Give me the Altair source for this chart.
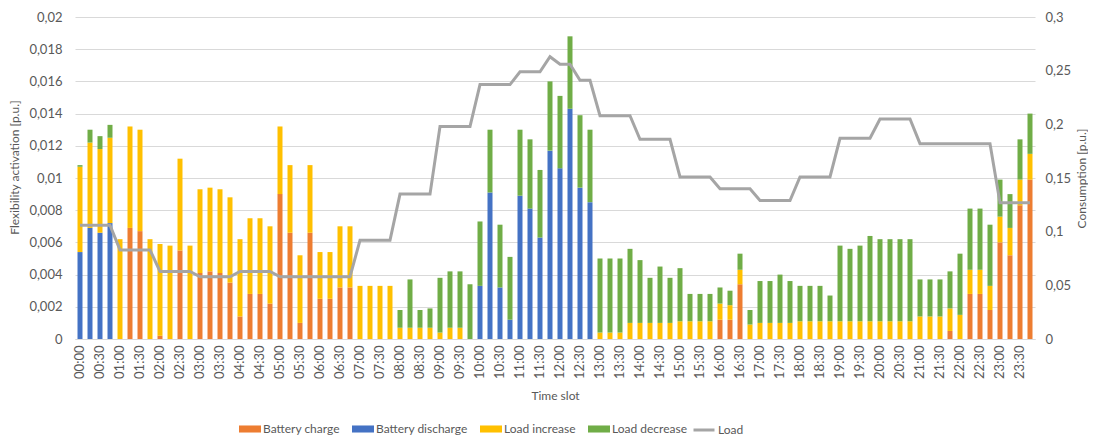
import altair as alt
import pandas as pd

slots = [f"{h:02d}:{m:02d}" for h in range(24) for m in (0, 15, 30, 45)]

battery_charge = [
    0, 0, 0, 0, 0, 0.0069, 0.0067, 0, 0.0002, 0,
    0.0055, 0, 0.0041, 0.0042, 0.0041, 0.0035, 0.0014, 0.0028, 0.0028, 0.0022,
    0.0090, 0.0066, 0.0010, 0.0066, 0.0025, 0.0025, 0.0032, 0.0032, 0, 0,
    0, 0, 0, 0, 0, 0, 0, 0, 0, 0,
    0, 0, 0, 0, 0, 0, 0, 0, 0, 0,
    0, 0, 0, 0, 0, 0, 0, 0, 0, 0,
    0, 0, 0, 0, 0.0012, 0.0012, 0.0034, 0, 0, 0,
    0, 0, 0, 0, 0, 0, 0, 0, 0, 0,
    0, 0, 0, 0, 0, 0, 0, 0.0005, 0, 0.0028,
    0.0028, 0.0018, 0.0060, 0.0052, 0.0083, 0.0099,
]
battery_discharge = [
    0.0054, 0.0069, 0.0066, 0.0072, 0, 0, 0, 0, 0, 0,
    0, 0, 0, 0, 0, 0, 0, 0, 0, 0,
    0, 0, 0, 0, 0, 0, 0, 0, 0, 0,
    0, 0, 0, 0, 0, 0, 0, 0, 0, 0,
    0.0033, 0.0091, 0.0032, 0.0012, 0.0089, 0.0081, 0.0063, 0.0117, 0.0106, 0.0143,
    0.0094, 0.0085, 0, 0, 0, 0, 0, 0, 0, 0,
    0, 0, 0, 0, 0, 0, 0, 0, 0, 0,
    0, 0, 0, 0, 0, 0, 0, 0, 0, 0,
    0, 0, 0, 0, 0, 0, 0, 0, 0, 0,
    0, 0, 0, 0, 0, 0,
]
load_increase = [
    0.0053, 0.0053, 0.0052, 0.0053, 0.0062, 0.0063, 0.0063, 0.0062, 0.0057, 0.0058,
    0.0057, 0.0058, 0.0052, 0.0052, 0.0052, 0.0053, 0.0048, 0.0047, 0.0047, 0.0048,
    0.0042, 0.0042, 0.0042, 0.0042, 0.0029, 0.0029, 0.0038, 0.0038, 0.0033, 0.0033,
    0.0033, 0.0033, 0.0007, 0.0007, 0.0007, 0.0007, 0.0004, 0.0007, 0.0007, 0,
    0, 0, 0, 0, 0, 0, 0, 0, 0, 0,
    0, 0, 0.0004, 0.0004, 0.0004, 0.0010, 0.0010, 0.0010, 0.0010, 0.0010,
    0.0011, 0.0011, 0.0011, 0.0011, 0.0010, 0.0009, 0.0009, 0.0009, 0.0010, 0.0010,
    0.0010, 0.0010, 0.0011, 0.0011, 0.0011, 0.0011, 0.0011, 0.0011, 0.0011, 0.0011,
    0.0011, 0.0011, 0.0011, 0.0011, 0.0014, 0.0014, 0.0014, 0.0014, 0.0015, 0.0015,
    0.0015, 0.0015, 0.0016, 0.0017, 0.0016, 0.0016,
]
load_decrease = [
    0.0001, 0.0008, 0.0008, 0.0008, 0, 0, 0, 0, 0, 0,
    0, 0, 0, 0, 0, 0, 0, 0, 0, 0,
    0, 0, 0, 0, 0, 0, 0, 0, 0, 0,
    0, 0, 0.0011, 0.0030, 0.0011, 0.0012, 0.0034, 0.0035, 0.0035, 0.0034,
    0.0040, 0.0039, 0.0039, 0.0039, 0.0041, 0.0043, 0.0042, 0.0043, 0.0045, 0.0045,
    0.0045, 0.0045, 0.0046, 0.0046, 0.0046, 0.0046, 0.0039, 0.0028, 0.0035, 0.0028,
    0.0033, 0.0017, 0.0017, 0.0017, 0.0010, 0.0009, 0.0010, 0.0009, 0.0026, 0.0026,
    0.0030, 0.0026, 0.0022, 0.0022, 0.0022, 0.0016, 0.0047, 0.0045, 0.0047, 0.0053,
    0.0051, 0.0051, 0.0051, 0.0051, 0.0023, 0.0023, 0.0023, 0.0023, 0.0038, 0.0038,
    0.0038, 0.0038, 0.0023, 0.0021, 0.0025, 0.0025,
]
load = [
    0.106, 0.106, 0.106, 0.106, 0.083, 0.083, 0.083, 0.083, 0.063, 0.063,
    0.063, 0.063, 0.058, 0.058, 0.058, 0.058, 0.063, 0.063, 0.063, 0.063,
    0.058, 0.058, 0.058, 0.058, 0.058, 0.058, 0.058, 0.058, 0.092, 0.092,
    0.092, 0.092, 0.135, 0.135, 0.135, 0.135, 0.198, 0.198, 0.198, 0.198,
    0.237, 0.237, 0.237, 0.237, 0.249, 0.249, 0.249, 0.263, 0.256, 0.256,
    0.241, 0.241, 0.208, 0.208, 0.208, 0.208, 0.186, 0.186, 0.186, 0.186,
    0.151, 0.151, 0.151, 0.151, 0.140, 0.140, 0.140, 0.140, 0.129, 0.129,
    0.129, 0.129, 0.151, 0.151, 0.151, 0.151, 0.187, 0.187, 0.187, 0.187,
    0.205, 0.205, 0.205, 0.205, 0.182, 0.182, 0.182, 0.182, 0.182, 0.182,
    0.182, 0.182, 0.127, 0.127, 0.127, 0.127,
]

series_names = ["Battery charge", "Battery discharge", "Load increase", "Load decrease"]
series_colors = ["#ED7D31", "#4472C4", "#FFC000", "#70AD47"]
series_values = [battery_charge, battery_discharge, load_increase, load_decrease]
left_ticks = [0, 0.002, 0.004, 0.006, 0.008, 0.01, 0.012, 0.014, 0.016, 0.018, 0.02]
right_ticks = [0, 0.05, 0.1, 0.15, 0.2, 0.25, 0.3]

rows = []
for k, (name, vals) in enumerate(zip(series_names, series_values)):
    for i, s in enumerate(slots):
        rows.append({"slot": s, "series": name, "value": vals[i], "k": k})
bar_df = pd.DataFrame(rows)
line_df = pd.DataFrame({"slot": slots, "load": load, "name": ["Load"] * len(slots)})

FONT = "Lato"
TXT = "#595959"
GRID = "#D9D9D9"
num_expr = "replace(format(datum.value, '~g'), '.', ',')"

x_enc = alt.X(
    "slot:N",
    sort=slots,
    scale=alt.Scale(paddingInner=0.5, paddingOuter=0.25),
    axis=alt.Axis(
        values=slots[::2], labelAngle=270, title="Time slot", ticks=False,
        domain=True, domainColor=GRID, labelPadding=6, titlePadding=12,
        grid=False,
    ),
)

bars = alt.Chart(bar_df).mark_bar().encode(
    x=x_enc,
    y=alt.Y(
        "value:Q", stack="zero",
        scale=alt.Scale(domain=[0, 0.02], nice=False),
        axis=alt.Axis(
            values=left_ticks, labelExpr=num_expr, title="Flexibility activation [p.u.]",
            grid=True, gridColor=GRID, domain=False, ticks=False,
            labelPadding=13, titlePadding=7, titleY=150,
        ),
    ),
    color=alt.Color(
        "series:N",
        scale=alt.Scale(domain=series_names, range=series_colors),
        legend=alt.Legend(
            orient="none", legendX=164, legendY=401, direction="horizontal",
            title=None, symbolType="M-1,-0.32H1V0.32H-1Z", symbolSize=484,
            symbolStrokeWidth=0, columnPadding=12, labelOffset=2,
        ),
    ),
    order=alt.Order("k:Q", sort="ascending"),
)

line = alt.Chart(line_df).mark_line(strokeWidth=3).encode(
    x=x_enc,
    y=alt.Y(
        "load:Q",
        scale=alt.Scale(domain=[0, 0.3], nice=False),
        axis=alt.Axis(
            values=right_ticks, labelExpr=num_expr, title="Consumption [p.u.]",
            grid=False, domain=False, ticks=False, orient="right",
            labelPadding=10, titlePadding=18, titleAngle=270,
        ),
    ),
    stroke=alt.Stroke(
        "name:N",
        scale=alt.Scale(domain=["Load"], range=["#A5A5A5"]),
        legend=alt.Legend(
            orient="none", legendX=617, legendY=401, direction="horizontal",
            title=None, symbolType="stroke", symbolSize=441, symbolStrokeWidth=3,
            labelOffset=2,
        ),
    ),
)

chart = (
    alt.layer(bars, line)
    .resolve_scale(y="independent", color="independent")
    .properties(
        width=960, height=322,
        autosize=alt.AutoSizeParams(type="none"),
        padding={"left": 67, "top": 9, "right": 53, "bottom": 97},
        background="white",
    )
    .configure(font=FONT)
    .configure_view(stroke=None)
    .configure_axis(
        labelFont=FONT, titleFont=FONT, labelFontSize=13, titleFontSize=12,
        labelColor=TXT, titleColor=TXT, titleFontWeight="normal",
    )
    .configure_legend(labelFont=FONT, labelFontSize=12, labelColor=TXT)
)

chart.save("out.html", embed_options={"renderer": "svg", "actions": False})
